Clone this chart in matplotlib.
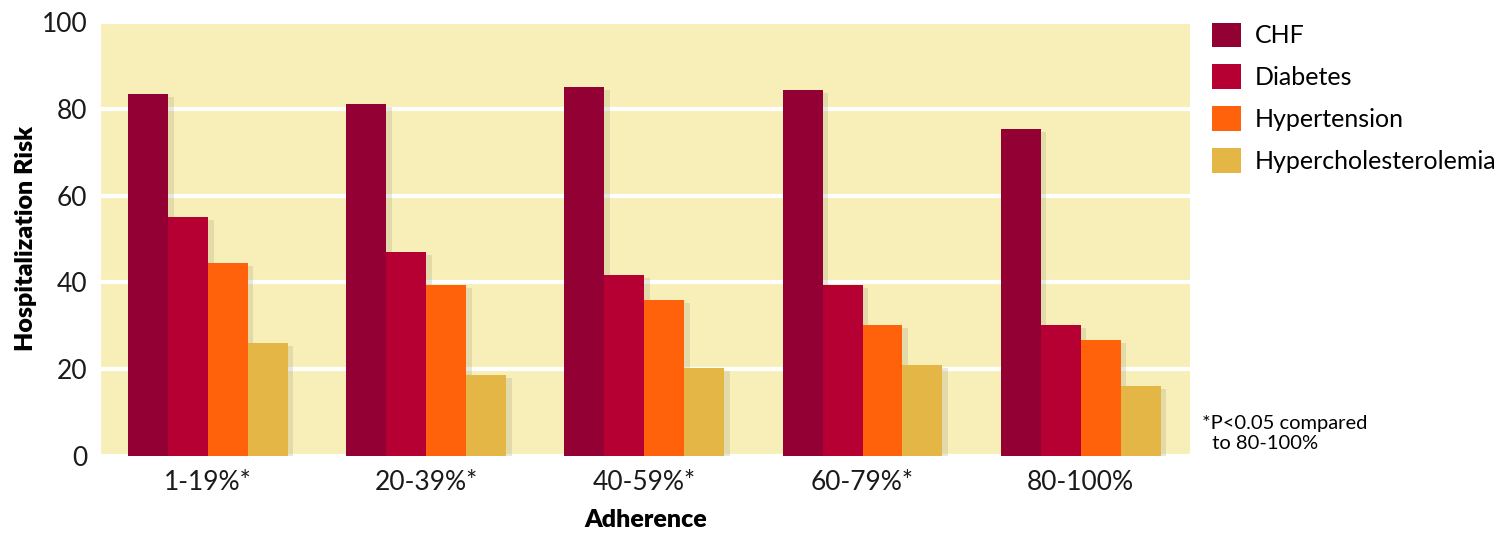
import matplotlib.pyplot as plt
import numpy as np
from matplotlib import patheffects as pe
from matplotlib.patches import Patch

plt.rcParams['font.family'] = ['Lato', 'DejaVu Sans']

# данные
groups = ['1-19%*', '20-39%*', '40-59%*', '60-79%*', '80-100%']
series = ['CHF', 'Diabetes', 'Hypertension', 'Hypercholesterolemia']
chf = [83.4, 81.1, 85.0, 84.3, 75.3]
diabetes = [55.0, 47.0, 41.7, 39.4, 30.2]
hypertension = [44.5, 39.4, 35.9, 30.2, 26.7]
hyperchol = [26.0, 18.7, 20.3, 21.0, 16.1]
colors = ['#930034', '#B60033', '#FF620A', '#E3B646']

fig = plt.figure(figsize=(15.08, 5.37), dpi=100)
ax = fig.add_axes([0.067, 0.151, 0.722, 0.808])
ax.set_facecolor('#F8EFB8')

x = np.arange(len(groups))
w = 0.183
shadow = [pe.SimplePatchShadow(offset=(4, -2), shadow_rgbFace='#8a8a70', alpha=0.2), pe.Normal()]
for i, (vals, c) in enumerate(zip([chf, diabetes, hypertension, hyperchol], colors)):
    ax.bar(x + (i - 1.5) * w, vals, width=w, color=c, zorder=3, path_effects=shadow)

ax.set_xlim(-0.49, 4.5)
ax.set_ylim(0, 100)
ax.set_yticks([0, 20, 40, 60, 80, 100])
ax.set_xticks(x)
ax.set_xticklabels(groups)
ax.grid(axis='y', color='white', linewidth=3, zorder=1)
ax.tick_params(length=0, labelsize=19, colors='#1a1a1a', pad=10)
for s in ax.spines.values():
    s.set_visible(False)

ax.set_xlabel('Adherence', fontsize=18, fontweight='heavy', labelpad=10)
ax.set_ylabel('Hospitalization Risk', fontsize=18, fontweight='heavy', labelpad=3)

handles = [Patch(facecolor=c, label=s) for s, c in zip(series, colors)]
fig.legend(handles=handles, loc='upper left', bbox_to_anchor=(0.789, 1.0),
           frameon=False, fontsize=18, handlelength=1.15, handleheight=1.15,
           handletextpad=0.55, labelspacing=0.68)

fig.text(0.797, 0.158, '*P<0.05 compared\n  to 80-100%', fontsize=14.5, va='bottom', linespacing=1.2)

fig.savefig('out.png', dpi=100)
